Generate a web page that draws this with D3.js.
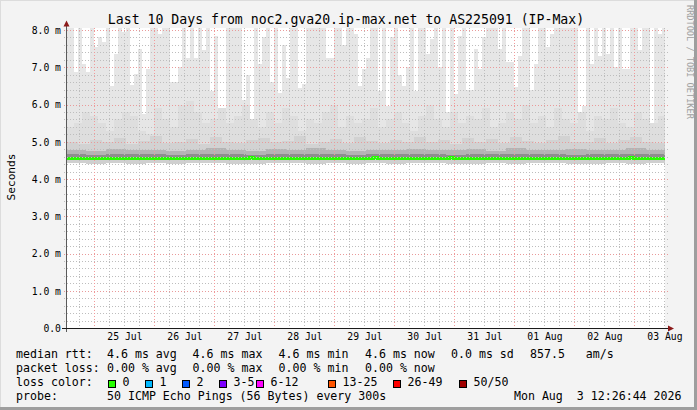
<!DOCTYPE html>
<html><head><meta charset="utf-8">
<script src="https://cdn.jsdelivr.net/npm/d3@7"></script>
<style>
html,body{margin:0;padding:0;background:#f3f3f3;overflow:hidden}
text{font-family:"DejaVu Sans Mono",monospace}
</style>
</head><body><svg id="c" width="697" height="410"></svg>
<script>
// ---------- data ----------
const title = "Last 10 Days from noc2.gva20.ip-max.net to AS225091 (IP-Max)";
const yAxisLabel = "Seconds";
const watermark = "RRDTOOL / TOBI OETIKER";
const endTime = Date.UTC(2026, 7, 3, 12, 26, 44);
const spanDays = 10;
const yTickValues = [0, 1, 2, 3, 4, 5, 6, 7, 8];
const yTickLabels = ["0.0", "1.0 m", "2.0 m", "3.0 m", "4.0 m", "5.0 m", "6.0 m", "7.0 m", "8.0 m"];
const xTickLabels = ["25 Jul", "26 Jul", "27 Jul", "28 Jul", "29 Jul", "30 Jul", "31 Jul", "01 Aug", "02 Aug", "03 Aug"];

// median rtt (ms), 150 buckets
const medianRtt = [
4.56,4.56,4.56,4.56,4.56,4.56,4.56,4.56,4.56,4.56,4.56,4.56,4.56,4.56,4.56,4.56,4.56,4.56,4.56,4.56,
4.56,4.56,4.56,4.56,4.56,4.56,4.56,4.56,4.56,4.56,4.56,4.56,4.56,4.56,4.56,4.56,4.56,4.56,4.56,4.56,
4.56,4.56,4.56,4.56,4.56,4.56,4.59,4.56,4.56,4.56,4.56,4.56,4.56,4.56,4.56,4.56,4.56,4.56,4.56,4.56,
4.56,4.56,4.56,4.56,4.56,4.56,4.56,4.56,4.56,4.56,4.56,4.56,4.56,4.56,4.56,4.56,4.56,4.59,4.56,4.56,
4.56,4.56,4.56,4.56,4.56,4.56,4.56,4.56,4.56,4.56,4.56,4.56,4.56,4.56,4.56,4.56,4.59,4.56,4.56,4.56,
4.56,4.56,4.56,4.56,4.56,4.56,4.56,4.56,4.56,4.56,4.56,4.56,4.56,4.56,4.56,4.56,4.56,4.56,4.56,4.56,
4.56,4.56,4.56,4.56,4.56,4.56,4.56,4.56,4.56,4.56,4.56,4.56,4.56,4.56,4.56,4.56,4.56,4.56,4.56,4.56,
4.56,4.59,4.56,4.56,4.56,4.56,4.56,4.56,4.56,4.56];

// smoke: max rtt per bucket (ms), 150 buckets (>= 8.05 = off the top)
const smokeMax = [
8.05,8.05,6.88,8.05,7.1,6.86,8.05,7.55,7.8,7.68,8.05,6.5,7.35,8.05,7.95,8.05,6.52,6.83,7.5,5.75,
6.95,8.05,8.05,7.9,8.05,8.05,6.6,6.6,7.0,8.05,7.25,8.05,7.25,8.05,7.45,8.05,6.35,7.85,5.67,5.8,
8.05,8.05,8.05,8.05,6.12,6.8,5.55,8.05,7.1,7.8,8.05,6.6,8.05,6.3,7.6,6.7,8.05,8.05,6.45,6.55,
8.05,8.05,8.05,8.05,8.05,7.25,7.25,8.05,8.05,7.6,8.05,8.05,7.9,6.5,6.95,7.24,8.05,8.05,6.35,8.05,
5.95,7.8,8.05,6.8,6.5,7.0,8.05,6.35,8.05,8.05,7.35,7.75,8.05,7.0,8.05,5.8,8.05,6.28,7.85,8.05,
6.4,6.4,7.5,6.95,7.8,8.05,8.05,8.05,7.5,8.05,7.15,7.15,6.48,7.3,8.05,8.05,6.4,7.1,8.05,8.05,
7.55,7.9,8.05,8.05,8.05,8.05,8.05,8.05,5.63,5.97,8.05,7.1,8.05,7.3,8.05,7.35,8.05,7.0,8.05,6.95,
6.95,8.05,8.05,7.45,8.05,8.05,5.4,8.05,7.9,8.05];

// smoke: upper light-grey level, 75 buckets
const smokeUpper = [
5.4,5.5,5.8,5.7,5.5,5.3,5.6,5.8,5.7,5.3,5.2,5.9,5.6,5.4,6.0,6.1,5.8,5.5,5.6,5.9,
5.5,5.7,6.0,5.6,5.4,5.8,5.5,5.9,5.7,5.3,5.6,5.5,5.8,6.0,5.4,5.7,5.5,5.6,5.9,5.4,
5.6,5.8,5.5,5.3,5.7,6.0,5.6,5.4,5.8,5.5,5.7,5.6,5.9,5.4,5.5,5.8,5.6,6.0,5.5,5.7,
5.4,5.9,5.6,5.5,5.8,5.3,5.7,5.6,5.9,5.5,5.4,5.8,5.6,5.5,5.7];

// smoke: mid-grey level, 50 buckets
const smokeMid = [
5.00,4.95,5.05,4.98,5.10,4.95,5.02,5.15,4.97,5.00,5.08,4.94,5.12,5.00,4.96,5.05,5.10,4.98,5.03,5.16,
4.95,5.00,5.08,4.97,5.12,5.02,4.96,5.06,5.00,5.14,4.98,5.04,4.95,5.10,5.00,5.07,4.97,5.12,5.02,4.96,
5.05,5.15,4.98,5.00,5.09,4.96,5.04,5.12,5.00,4.97];

// smoke: dense bands just above the median, 30 buckets
const smokeDense = [
4.78,4.76,4.81,4.77,4.79,4.75,4.78,4.82,4.77,4.76,4.80,4.77,4.83,4.78,4.76,
4.79,4.78,4.81,4.77,4.78,4.80,4.76,4.82,4.78,4.77,4.81,4.77,4.79,4.83,4.78];
const smokeCore = [
4.66,4.65,4.67,4.66,4.68,4.65,4.66,4.67,4.66,4.65,4.68,4.66,4.67,4.66,4.65,
4.67,4.66,4.68,4.66,4.65,4.67,4.66,4.68,4.66,4.67,4.65,4.66,4.68,4.67,4.66];
// smoke: min rtt, 30 buckets
const smokeMin = [
4.42,4.41,4.43,4.40,4.42,4.41,4.42,4.43,4.40,4.41,4.42,4.42,4.41,4.43,4.40,
4.42,4.41,4.42,4.43,4.41,4.40,4.42,4.41,4.43,4.42,4.40,4.41,4.42,4.41,4.42];

// legend
const medianStats = ["4.6 ms avg", "4.6 ms max", "4.6 ms min", "4.6 ms now", "0.0 ms sd", "857.5", "am/s"];
const lossStats = ["0.00 % avg", "0.00 % max", "0.00 % min", "0.00 % now"];
const lossLabels = ["0", "1", "2", "3-5", "6-12", "13-25", "26-49", "50/50"];
const lossColors = ["#26ff00", "#00b8ff", "#0059ff", "#7e00ff", "#ff00ff", "#ff5500", "#ff0000", "#a10000"];
const probeText = "50 ICMP Echo Pings (56 Bytes) every 300s";
const dateText = "Mon Aug  3 12:26:44 2026";

// ---------- layout ----------
const W = 697, H = 410;
const PL = 67, PR = 665, PT = 28, PB = 328;
const svg = d3.select("#c");
const startTime = endTime - spanDays * 864e5;

const x = d3.scaleUtc().domain([new Date(startTime), new Date(endTime)]).range([65.5, 665.5]);
const y = d3.scaleLinear().domain([0, 8]).range([328, 30]);

// background + border
svg.append("rect").attr("width", W).attr("height", H).attr("fill", "#f3f3f3");
svg.append("rect").attr("x", 0).attr("y", 0).attr("width", W).attr("height", 1).attr("fill", "#dcdcdc");
svg.append("rect").attr("x", 0).attr("y", 0).attr("width", 1).attr("height", H).attr("fill", "#dcdcdc");
svg.append("rect").attr("x", W - 3).attr("y", 0).attr("width", 3).attr("height", H).attr("fill", "#9e9e9e");
svg.append("rect").attr("x", 0).attr("y", H - 3).attr("width", W).attr("height", 3).attr("fill", "#9e9e9e");

// plot background
svg.append("rect").attr("x", PL).attr("y", PT).attr("width", PR - PL).attr("height", PB - PT).attr("fill", "#ffffff");

svg.append("clipPath").attr("id", "plotclip").append("rect")
  .attr("x", PL).attr("y", PT).attr("width", PR - PL).attr("height", PB - PT);
const plot = svg.append("g").attr("clip-path", "url(#plotclip)");

function stepPoints(arr) {
  const n = arr.length, step = (endTime - startTime) / n;
  const pts = arr.map((v, i) => ({t: startTime + i * step, v}));
  pts.push({t: endTime + 1, v: arr[n - 1]});
  return pts;
}
function layer(arr, base, color) {
  const a = d3.area().curve(d3.curveStepAfter)
    .x(d => x(new Date(d.t))).y0(y(base)).y1(d => y(Math.min(d.v, 8.06)));
  plot.append("path").datum(stepPoints(arr)).attr("d", a).attr("fill", color)
    .attr("shape-rendering", "crispEdges");
}
layer(smokeMax, 4.5, "#e6e6e6");
layer(smokeUpper, 4.5, "#dedede");
layer(smokeMid, 4.5, "#d2d2d2");
layer(smokeDense, 4.5, "#b4b4b4");
layer(smokeCore, 4.5, "#8e8e8e");
// lower part: min .. median
(function () {
  const ptsMin = stepPoints(smokeMin);
  const a = d3.area().curve(d3.curveStepAfter)
    .x(d => x(new Date(d.t))).y0(d => y(d.v)).y1(y(4.56));
  plot.append("path").datum(ptsMin).attr("d", a).attr("fill", "#cfcfcf").attr("shape-rendering", "crispEdges");
})();

// grid
const grid = svg.append("g");
const minorY = d3.range(1, 41).map(i => i * 0.2).filter(v => Math.abs(v - Math.round(v)) > 1e-6);
grid.selectAll(".gym").data(minorY).join("line")
  .attr("x1", 64).attr("x2", 668)
  .attr("y1", d => Math.round(y(d)) + 0.5).attr("y2", d => Math.round(y(d)) + 0.5)
  .attr("stroke", "#bdbdbd").attr("stroke-dasharray", "1,2");
const sixH = d3.utcHour.every(6).range(new Date(startTime), new Date(endTime + 1))
  .filter(d => d.getUTCHours() !== 0);
grid.selectAll(".gxm").data(sixH).join("line")
  .attr("x1", d => Math.round(x(d)) + 0.5).attr("x2", d => Math.round(x(d)) + 0.5)
  .attr("y1", PT).attr("y2", PB)
  .attr("stroke", "#bdbdbd").attr("stroke-dasharray", "1,2");
const days = d3.utcDay.range(new Date(startTime), new Date(endTime));
grid.selectAll(".gxM").data(days).join("line")
  .attr("x1", d => Math.round(x(d)) + 0.5).attr("x2", d => Math.round(x(d)) + 0.5)
  .attr("y1", PT).attr("y2", PB)
  .attr("stroke", "#f29a9a").attr("stroke-dasharray", "1,2");
grid.selectAll(".gyM").data(yTickValues.filter(v => v > 0)).join("line")
  .attr("x1", 64).attr("x2", 668)
  .attr("y1", d => Math.round(y(d)) + 0.5).attr("y2", d => Math.round(y(d)) + 0.5)
  .attr("stroke", "#e99a9a").attr("stroke-dasharray", "1,2");

// median line
const medPts = stepPoints(medianRtt);
plot.append("path").datum(medPts)
  .attr("d", d3.line().curve(d3.curveStepAfter).x(d => x(new Date(d.t))).y(d => y(d.v)))
  .attr("fill", "none").attr("stroke", lossColors[0]).attr("stroke-width", 3)
  .attr("shape-rendering", "crispEdges");

// axes lines and arrows
svg.append("line").attr("x1", 66.5).attr("x2", 66.5).attr("y1", 25).attr("y2", 332)
  .attr("stroke", "#5a5a5a");
svg.append("line").attr("x1", 62).attr("x2", 670).attr("y1", 328.5).attr("y2", 328.5)
  .attr("stroke", "#1a1a1a");
svg.append("path").attr("d", "M63.5,26.5 L66.5,20.5 L69.5,26.5 Z").attr("fill", "#8b1a1a");
svg.append("path").attr("d", "M668,325.5 L674,328.5 L668,331.5 Z").attr("fill", "#8b1a1a");

// y axis labels
const yAxis = d3.axisLeft(y).tickValues(yTickValues).tickSize(0).tickPadding(0)
  .tickFormat((d, i) => yTickLabels[i]);
const gy = svg.append("g").attr("transform", "translate(61,0)").call(yAxis);
gy.select(".domain").remove();
gy.selectAll("text").attr("font-family", "DejaVu Sans Mono").attr("font-size", 9.75)
  .attr("fill", "#000").attr("dy", "0.35em").attr("x", 0);

// x axis labels at noon
const parseDay = d3.utcParse("%d %b %Y %H");
const xTickDates = xTickLabels.map(s => parseDay(s + " 2026 12"));
const xAxis = d3.axisBottom(x).tickValues(xTickDates).tickSize(0).tickPadding(0)
  .tickFormat((d, i) => xTickLabels[i]);
const gx = svg.append("g").attr("transform", "translate(0,333)").call(xAxis);
gx.select(".domain").remove();
gx.selectAll("text").attr("font-family", "DejaVu Sans Mono").attr("font-size", 9.75)
  .attr("fill", "#000").attr("dy", "0.71em").attr("y", 0);

// title
svg.append("text").attr("x", 346).attr("y", 23.5).attr("text-anchor", "middle")
  .attr("font-size", 13.2).attr("fill", "#000").text(title);
// y label
svg.append("text").attr("transform", "translate(14.5,177) rotate(-90)").attr("text-anchor", "middle")
  .attr("font-size", 11.2).attr("fill", "#000").text(yAxisLabel);
// watermark
svg.append("text").attr("transform", "translate(686.5,5) rotate(90)")
  .attr("font-size", 8.6).attr("fill", "#a0a0a0").text(watermark);

// legend
const LF = 11.6;
const rowY = [358, 372, 386, 400];
const statX = [107, 192.6, 278.6, 365, 451, 530, 585.7];
const leg = svg.append("g").attr("font-size", LF).attr("fill", "#000");
leg.append("text").attr("x", 16).attr("y", rowY[0]).text("median rtt:");
leg.selectAll(".ms").data(medianStats).join("text")
  .attr("x", (d, i) => statX[i]).attr("y", rowY[0]).text(d => d);
leg.append("text").attr("x", 16).attr("y", rowY[1]).text("packet loss:");
leg.selectAll(".ls").data(lossStats).join("text")
  .attr("x", (d, i) => statX[i]).attr("y", rowY[1]).text(d => d);
leg.append("text").attr("x", 16).attr("y", rowY[2]).text("loss color:");
const boxX = [108.5, 145.5, 182.5, 219.5, 256.5, 328.5, 393.5, 459.5];
leg.selectAll(".lb").data(lossColors).join("rect")
  .attr("x", (d, i) => boxX[i]).attr("y", 380.5).attr("width", 7).attr("height", 7)
  .attr("fill", d => d).attr("stroke", "#000").attr("stroke-width", 1);
leg.selectAll(".lt").data(lossLabels).join("text")
  .attr("x", (d, i) => boxX[i] + 14).attr("y", rowY[2]).text(d => d);
leg.append("text").attr("x", 16).attr("y", rowY[3]).text("probe:");
leg.append("text").attr("x", 107).attr("y", rowY[3]).text(probeText);
leg.append("text").attr("x", 681.5).attr("y", rowY[3]).attr("text-anchor", "end")
  .attr("xml:space", "preserve").style("white-space", "pre").text(dateText);
</script>
</body></html>
